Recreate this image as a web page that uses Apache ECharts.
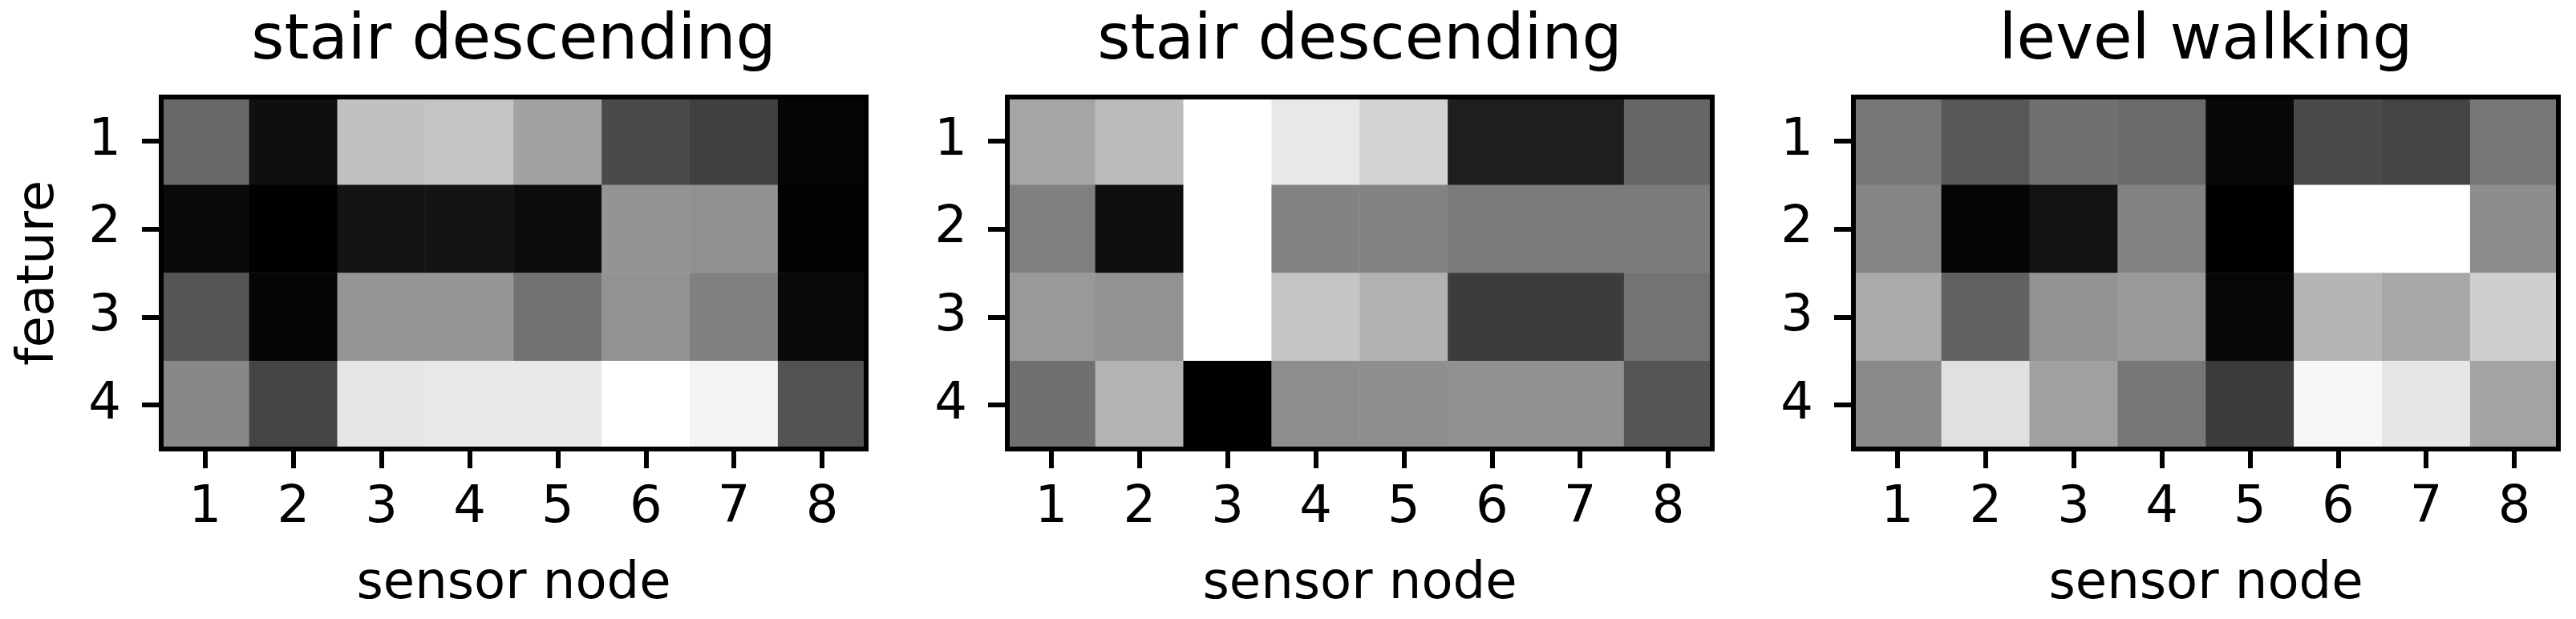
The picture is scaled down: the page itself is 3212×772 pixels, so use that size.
<!DOCTYPE html>
<html>
<head>
<meta charset="utf-8">
<script src="https://cdn.jsdelivr.net/npm/echarts@6/dist/echarts.min.js"></script>
<style>
html,body{margin:0;padding:0;background:#fff;}
#chart{width:3212px;height:772px;}
</style>
</head>
<body>
<div id="chart"></div>
<script>
// ---- data (gray intensity 0 = black, 255 = white), rows = feature 1..4, cols = sensor node 1..8
const sensorNodes = ['1','2','3','4','5','6','7','8'];
const features = ['1','2','3','4'];
const titles = ['stair descending', 'stair descending', 'level walking'];

const panel1 = [
  [105, 15, 192, 196, 162, 74, 64, 5],
  [10, 0, 20, 19, 12, 148, 145, 2],
  [85, 5, 149, 150, 114, 146, 128, 10],
  [136, 68, 229, 232, 232, 255, 243, 82]
];
const panel2 = [
  [165, 187, 255, 232, 211, 30, 30, 102],
  [128, 15, 255, 131, 131, 123, 123, 124],
  [153, 146, 255, 197, 178, 60, 60, 115],
  [112, 179, 0, 142, 142, 145, 145, 85]
];
const panel3 = [
  [119, 88, 112, 106, 8, 74, 68, 119],
  [133, 5, 18, 131, 0, 255, 255, 141],
  [170, 97, 147, 153, 6, 181, 168, 207],
  [137, 224, 160, 119, 59, 247, 230, 163]
];
const panels = [panel1, panel2, panel3];

// ---- layout
const FONT = 'DejaVu Sans';
const gridLefts = [201, 1256, 2311];
const gridTop = 121, gridW = 879, gridH = 439;

function toCells(m) {
  const out = [];
  m.forEach((row, r) => row.forEach((v, c) => out.push([c, r, v])));
  return out;
}

const option = {
  backgroundColor: '#fff',
  animation: false,
  title: titles.map((t, i) => ({
    text: t,
    left: gridLefts[i] + gridW / 2,
    top: 13,
    textAlign: 'center',
    padding: 0,
    textStyle: { fontFamily: FONT, fontSize: 79, fontWeight: 'normal', color: '#000', lineHeight: 79 }
  })),
  grid: gridLefts.map(l => ({
    left: l, top: gridTop, width: gridW, height: gridH,
    show: true, borderWidth: 6, borderColor: '#000', backgroundColor: 'transparent', z: 10
  })),
  xAxis: gridLefts.map((l, i) => ({
    type: 'category', gridIndex: i, data: sensorNodes, position: 'bottom',
    name: 'sensor node', nameLocation: 'middle', nameGap: 137,
    nameTextStyle: { fontFamily: FONT, fontSize: 64, lineHeight: 64, color: '#000' },
    axisLine: { show: false },
    axisTick: { show: true, alignWithLabel: true, length: 24, lineStyle: { width: 6, color: '#000' } },
    axisLabel: { fontFamily: FONT, fontSize: 64, lineHeight: 64, color: '#000', margin: 42 },
    splitLine: { show: false }
  })),
  yAxis: gridLefts.map((l, i) => ({
    type: 'category', gridIndex: i, data: features, inverse: true,
    name: i === 0 ? 'feature' : '', nameLocation: 'middle', nameGap: 120,
    nameTextStyle: { fontFamily: FONT, fontSize: 64, lineHeight: 64, color: '#000' },
    axisLine: { show: false },
    axisTick: { show: true, alignWithLabel: true, length: 24, lineStyle: { width: 6, color: '#000' } },
    axisLabel: { fontFamily: FONT, fontSize: 64, lineHeight: 64, color: '#000', margin: 50 },
    splitLine: { show: false }
  })),
  visualMap: panels.map((p, i) => ({
    type: 'continuous', show: false, seriesIndex: i, min: 0, max: 255,
    inRange: { color: ['#000000', '#ffffff'] }
  })),
  series: panels.map((p, i) => ({
    type: 'heatmap', xAxisIndex: i, yAxisIndex: i, data: toCells(p),
    itemStyle: { borderWidth: 0 },
    emphasis: { disabled: true }
  }))
};

const chart = echarts.init(document.getElementById('chart'), null, { renderer: 'canvas' });
chart.setOption(option);
</script>
</body>
</html>
